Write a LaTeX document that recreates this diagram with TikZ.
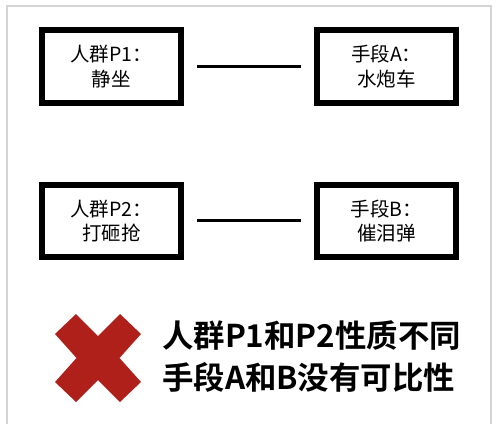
\documentclass[tikz,border=0pt]{standalone}
\usepackage{fontspec}
\newfontfamily\cjk{Noto Sans CJK SC}
\newfontfamily\cjkb{Noto Sans CJK SC Bold}
\definecolor{framegray}{HTML}{D4D4D4}
\definecolor{xred}{HTML}{B0201B}
\tikzset{
  itembox/.style={draw=black, line width=6pt, fill=white, minimum width=139.5pt, minimum height=72.5pt, inner sep=0pt, align=center, font=\cjk\fontsize{19.5}{24.5}\selectfont},
  pairline/.style={line width=3pt, shorten <=13pt, shorten >=13pt},
}
\begin{document}
\begin{tikzpicture}[x=1pt,y=-1pt]
\useasboundingbox (0,0) rectangle (500,431);
\fill[white] (0,0) rectangle (500,431);
\draw[framegray, line width=1.5pt] (7,424) -- (7,6) -- (491,6) -- (491,424);

\node[itembox] (p1) at (111.25,66.7) {人群P1：\\静坐};
\node[itembox] (a)  at (386.25,66.7) {手段A：\\水炮车};
\node[itembox] (p2) at (111.25,220.9) {人群P2：\\打砸抢};
\node[itembox] (b)  at (386.25,220.9) {手段B：\\催泪弹};

\draw[pairline] (p1) -- (a);
\draw[pairline] (p2) -- (b);

\coordinate (xc) at (98,358);
\fill[xred] ([shift={(-43,-24)}]xc) -- ([shift={(-22,-44)}]xc) -- ([shift={(0,-22)}]xc)
  -- ([shift={(22,-44)}]xc) -- ([shift={(43,-24)}]xc) -- ([shift={(21.5,0)}]xc)
  -- ([shift={(43,24)}]xc) -- ([shift={(22,44)}]xc) -- ([shift={(0,22)}]xc)
  -- ([shift={(-22,44)}]xc) -- ([shift={(-43,24)}]xc) -- ([shift={(-21.5,0)}]xc) -- cycle;

\node[anchor=west, inner sep=0pt, align=left, font=\cjkb\fontsize{31.4}{42}\selectfont] (msg) at (162,357) {人群P1和P2性质不同\\手段A和B没有可比性};
\end{tikzpicture}
\end{document}
